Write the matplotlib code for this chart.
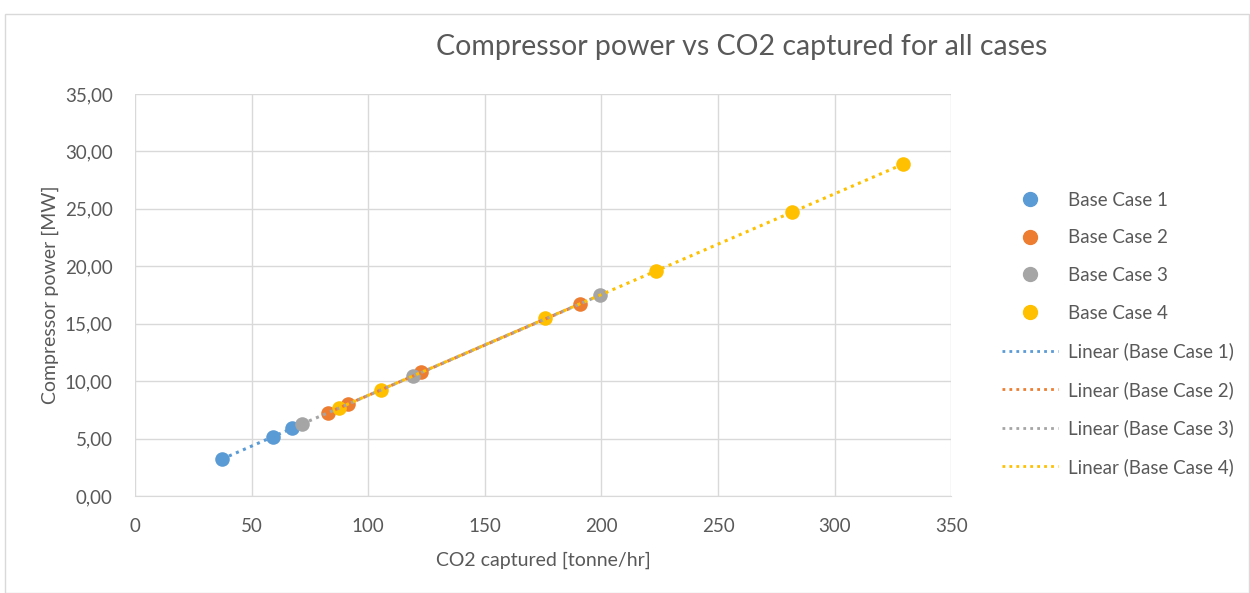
import numpy as np
import matplotlib.pyplot as plt
from matplotlib.lines import Line2D

plt.rcParams['font.family'] = ['Lato', 'DejaVu Sans']

# CO2 captured [tonne/hr] and compressor power [MW] per case
case1_x = [37.3, 59.2, 67.4]
case1_y = [3.22, 5.13, 5.92]
case2_x = [82.8, 91.4, 122.7, 190.9]
case2_y = [7.22, 8.00, 10.80, 16.70]
case3_x = [71.6, 119.3, 199.5]
case3_y = [6.27, 10.44, 17.49]
case4_x = [87.5, 105.5, 175.9, 223.5, 281.9, 329.5]
case4_y = [7.66, 9.22, 15.50, 19.58, 24.70, 28.90]

names = ['Base Case 1', 'Base Case 2', 'Base Case 3', 'Base Case 4']
colors = ['#5B9BD5', '#ED7D31', '#A5A5A5', '#FFC000']
text_col = '#595959'

fig = plt.figure(figsize=(12.5, 5.93), dpi=100)
ax = fig.add_axes([0.108, 0.1636, 0.653, 0.678])

series = [(case1_x, case1_y), (case2_x, case2_y), (case3_x, case3_y), (case4_x, case4_y)]
for (xs, ys), c in zip(series, colors):
    ax.scatter(xs, ys, s=110, color=c, zorder=3, linewidths=0)
for (xs, ys), c in zip(series, colors):
    k, b = np.polyfit(xs, ys, 1)
    xx = np.array([min(xs), max(xs)])
    ax.plot(xx, k * xx + b, color=c, linestyle=(0, (1, 1.5)), linewidth=2.2, zorder=4)

ax.set_xlim(0, 350)
ax.set_ylim(0, 35)
ax.set_xticks(range(0, 351, 50))
ax.set_yticks(range(0, 36, 5))
ax.set_yticklabels([f'{v},00' for v in range(0, 36, 5)])
ax.grid(True, color='#D9D9D9', linewidth=1)
ax.set_axisbelow(True)
for s in ['top', 'right', 'left']:
    ax.spines[s].set_visible(False)
ax.spines['bottom'].set_color('#D9D9D9')
ax.tick_params(length=0, labelsize=13.5, colors=text_col)
ax.tick_params(axis='x', pad=16)
ax.tick_params(axis='y', pad=16)
ax.set_xlabel('CO2 captured [tonne/hr]', fontsize=14, color=text_col, labelpad=12)
ax.set_ylabel('Compressor power [MW]', fontsize=14, color=text_col, labelpad=4)

fig.text(0.593, 0.92, 'Compressor power vs CO2 captured for all cases',
         fontsize=20.5, color=text_col, ha='center', va='center')

handles = [Line2D([], [], marker='o', linestyle='none', color=c, markersize=10) for c in colors]
handles += [Line2D([], [], color=c, linestyle=(0, (1, 1.5)), linewidth=2) for c in colors]
labels = names + [f'Linear ({n})' for n in names]
fig.legend(handles, labels, loc='upper left', bbox_to_anchor=(0.788, 0.705),
           frameon=False, fontsize=13.5, labelcolor=text_col, labelspacing=1.1,
           handlelength=3.0, handletextpad=0.5)

# chart frame
fig.patches.append(plt.Rectangle((0.004, 0.0), 0.995, 0.977, transform=fig.transFigure,
                                 fill=False, edgecolor='#D9D9D9', linewidth=1))

fig.savefig('out.png', dpi=100)
